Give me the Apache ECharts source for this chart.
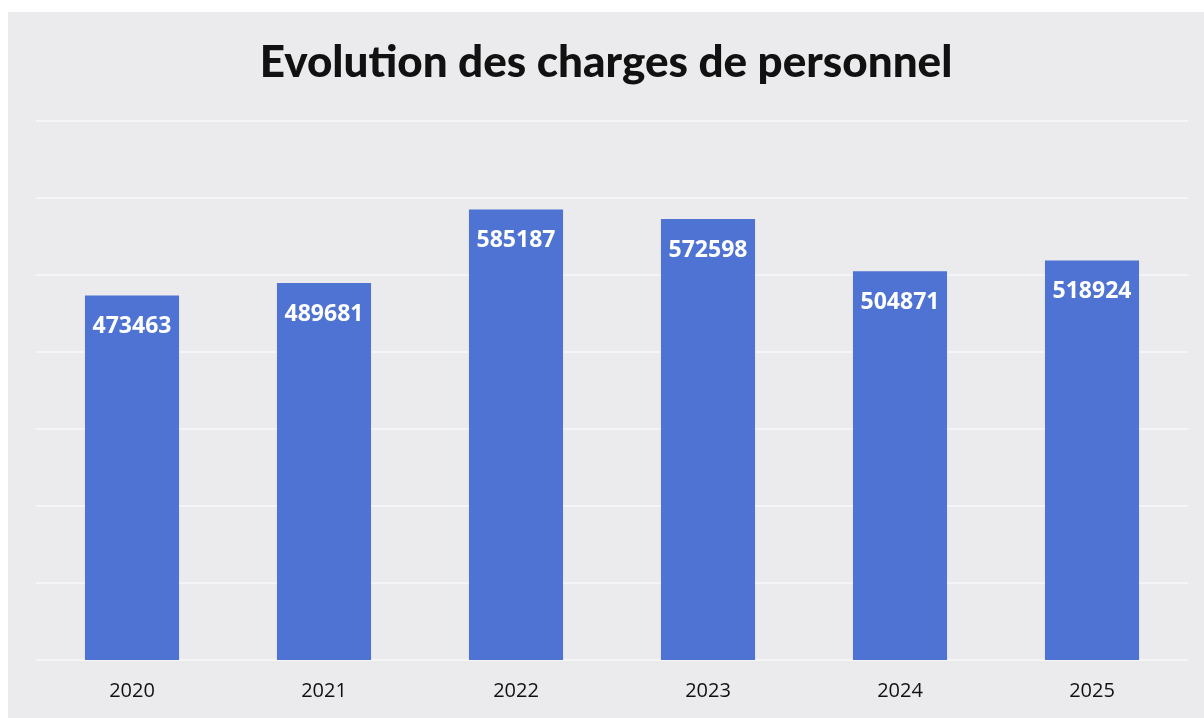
<!DOCTYPE html>
<html>
<head>
<meta charset="utf-8">
<script src="https://cdn.jsdelivr.net/npm/echarts@6/dist/echarts.min.js"></script>
<style>
  html, body { margin: 0; padding: 0; background: #ffffff; }
  #chart { position: absolute; left: 8px; top: 12px; width: 1196px; height: 706px; background: #ebebed; }
</style>
</head>
<body>
<div id="chart"></div>
<script>
// données
var years = ['2020', '2021', '2022', '2023', '2024', '2025'];
var charges = [473463, 489681, 585187, 572598, 504871, 518924];

var myChart = echarts.init(document.getElementById('chart'));
var option = {
  backgroundColor: '#ebebed',
  title: {
    text: 'Evolution des charges de personnel',
    left: 'center',
    top: 24,
    textStyle: {
      fontFamily: 'Lato',
      fontWeight: 900,
      fontSize: 44,
      color: '#111111'
    }
  },
  grid: {
    left: 28,
    right: 16,
    top: 109,
    bottom: 58
  },
  xAxis: {
    type: 'category',
    data: years,
    axisLine: { show: false },
    axisTick: { show: false },
    axisLabel: {
      margin: 21,
      fontFamily: 'Open Sans',
      fontSize: 20,
      color: '#111111'
    }
  },
  yAxis: {
    type: 'value',
    min: 0,
    max: 700000,
    interval: 100000,
    axisLabel: { show: false },
    axisLine: { show: false },
    axisTick: { show: false },
    splitLine: {
      lineStyle: { color: '#f8f8f8', width: 1.5 }
    }
  },
  series: [
    {
      name: 'Charges de personnel',
      type: 'bar',
      data: charges,
      barWidth: '49%',
      itemStyle: { color: '#4e73d3' },
      label: {
        show: true,
        position: 'insideTop',
        distance: 20,
        fontFamily: 'Open Sans',
        fontWeight: 'bold',
        fontSize: 23,
        color: '#ffffff'
      }
    }
  ]
};
myChart.setOption(option, true);
</script>
</body>
</html>
